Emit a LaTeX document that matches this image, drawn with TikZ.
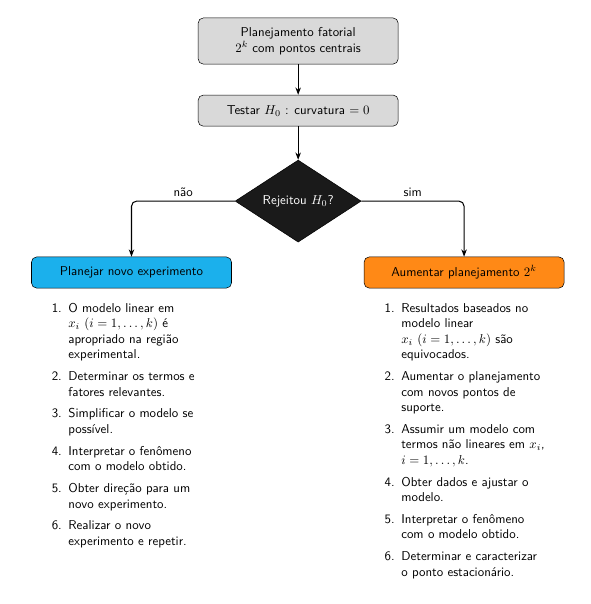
\documentclass[tikz,border=0pt]{standalone}
\usepackage{fontspec}
\renewcommand{\familydefault}{\sfdefault}
\usepackage{enumitem}
\usetikzlibrary{arrows.meta,positioning,shapes.geometric}

\definecolor{boxgray}{RGB}{217,217,217}
\definecolor{decdark}{RGB}{26,26,26}
\definecolor{planblue}{RGB}{27,176,236}
\definecolor{augorange}{RGB}{255,137,22}

\setlist[enumerate]{label=\arabic*., leftmargin=0.5cm, labelsep=0.18cm,
  topsep=0pt, partopsep=0pt, parsep=0pt, itemsep=5pt}

\begin{document}
\begin{tikzpicture}[
  box/.style={rectangle, rounded corners=4pt, draw=black, fill=boxgray,
              minimum width=5.46cm, minimum height=0.85cm, align=center},
  dec/.style={diamond, draw=black, fill=decdark, text=white, aspect=1.54,
              minimum width=3.44cm, minimum height=2.24cm, inner sep=0pt},
  lst/.style={anchor=north west, inner sep=0pt, text width=4.9cm, align=left},
  flow/.style={-{Stealth[length=2mm]}, thick, rounded corners=4pt}
]
\useasboundingbox (0,0) rectangle (16.11,-16.49);

\node[box, minimum height=1.26cm] (fat) at (8.14,-1.12)
      {Planejamento fatorial\\ $2^k$ com pontos centrais};
\node[box] (tst) at (8.14,-3.02) {Testar $H_0$ : curvatura $=0$};
\node[dec] (rej) at (8.14,-5.49) {Rejeitou $H_0$?};

\node[box, fill=planblue]  (plan) at (3.59,-7.44)  {Planejar novo experimento};
\node[box, fill=augorange] (aum)  at (12.67,-7.44) {Aumentar planejamento $2^k$};

\draw[flow] (fat) -- (tst);
\draw[flow] (tst) -- (rej);
\draw[flow] (rej.west) -| node[pos=0.25, above]{não} (plan);
\draw[flow] (rej.east) -| node[pos=0.25, above]{sim} (aum);

% item lists below the two outcome boxes
\node[lst] (lplan) at (1.36,-8.1) {%
  \begin{enumerate}
    \item O modelo linear em\newline
          $x_i$ $(i=1,\ldots,k)$ é\newline
          apropriado na região\newline
          experimental.
    \item Determinar os termos e\newline fatores relevantes.
    \item Simplificar o modelo se\newline possível.
    \item Interpretar o fenômeno\newline com o modelo obtido.
    \item Obter direção para um\newline novo experimento.
    \item Realizar o novo\newline experimento e repetir.
  \end{enumerate}};

\node[lst] (laum) at (10.45,-8.1) {%
  \begin{enumerate}
    \item Resultados baseados no\newline
          modelo linear\newline
          $x_i$ $(i=1,\ldots,k)$ são\newline
          equivocados.
    \item Aumentar o planejamento\newline com novos pontos de\newline suporte.
    \item Assumir um modelo com\newline
          termos não lineares em $x_i$,\newline
          $i=1,\ldots,k$.
    \item Obter dados e ajustar o\newline modelo.
    \item Interpretar o fenômeno\newline com o modelo obtido.
    \item Determinar e caracterizar\newline o ponto estacionário.
  \end{enumerate}};

\end{tikzpicture}
\end{document}
